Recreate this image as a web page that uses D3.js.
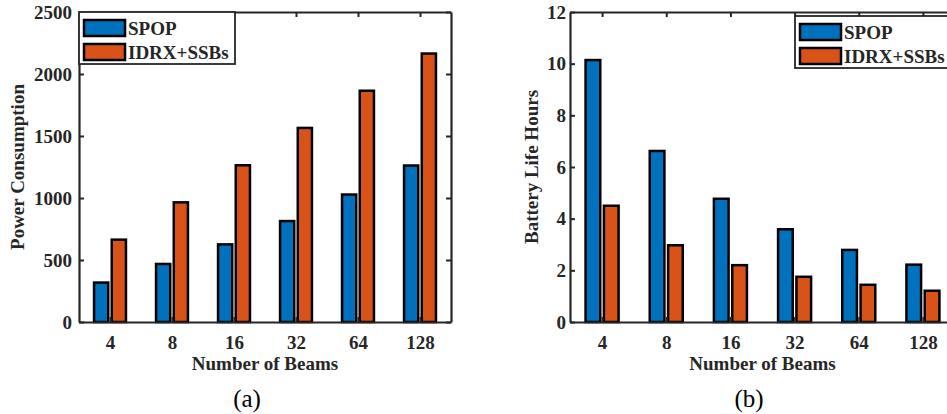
<!DOCTYPE html>
<html>
<head>
<meta charset="utf-8">
<script src="https://cdn.jsdelivr.net/npm/d3@7/dist/d3.min.js"></script>
<style>
  body { margin: 0; background: #fff; }
  svg { display: block; }
  text { font-family: "Liberation Serif", "Times New Roman", serif; }
</style>
</head>
<body>
<svg id="chart" width="947" height="414"></svg>
<script>
// data
var beams = ["4", "8", "16", "32", "64", "128"];
var seriesNames = ["SPOP", "IDRX+SSBs"];
var seriesColors = ["#0072BD", "#D95319"];

var powerSPOP = [318, 468, 626, 814, 1028, 1262];
var powerIDRX = [664, 965, 1264, 1565, 1865, 2165];
var powerTicks = [0, 500, 1000, 1500, 2000, 2500];

var batterySPOP = [10.14, 6.62, 4.77, 3.59, 2.79, 2.22];
var batteryIDRX = [4.50, 2.97, 2.20, 1.75, 1.44, 1.21];
var batteryTicks = [0, 2, 4, 6, 8, 10, 12];

var svg = d3.select("#chart");
var axisColor = "#262626";

function drawPanel(p) {
  var g = svg.append("g");
  var x = d3.scaleLinear().domain([0.5, beams.length + 0.5]).range([p.left, p.right]);
  var y = d3.scaleLinear().domain([0, p.ymax]).range([p.bottom, p.top]);
  var barW = 0.2286, off = 0.1429;
  var series = [p.a, p.b];

  // bars
  series.forEach(function(vals, s) {
    g.selectAll(".bar" + s)
      .data(vals)
      .enter()
      .append("rect")
      .attr("x", function(d, i) { return x(i + 1 + (s === 0 ? -off : off) - barW / 2); })
      .attr("y", function(d) { return y(d); })
      .attr("width", x(barW) - x(0))
      .attr("height", function(d) { return y(0) - y(d); })
      .attr("fill", seriesColors[s])
      .attr("stroke", "#000")
      .attr("stroke-width", 2.5);
  });

  // axes (box with inward ticks)
  var ax = g.append("g").attr("transform", "translate(0," + p.bottom + ")")
    .call(d3.axisBottom(x).tickValues(d3.range(1, beams.length + 1))
      .tickFormat(function(d) { return beams[d - 1]; })
      .tickSizeInner(-5).tickSizeOuter(0).tickPadding(14));
  var axT = g.append("g").attr("transform", "translate(0," + p.top + ")")
    .call(d3.axisTop(x).tickValues(d3.range(1, beams.length + 1))
      .tickFormat("").tickSizeInner(-5).tickSizeOuter(0));
  var ay = g.append("g").attr("transform", "translate(" + p.left + ",0)")
    .call(d3.axisLeft(y).tickValues(p.ticks).tickFormat(d3.format("d"))
      .tickSizeInner(-5).tickSizeOuter(0).tickPadding(p.tickPad));
  var ayR = g.append("g").attr("transform", "translate(" + p.right + ",0)")
    .call(d3.axisRight(y).tickValues(p.ticks).tickFormat("").tickSizeInner(-5).tickSizeOuter(0));

  [ax, axT, ay, ayR].forEach(function(a) {
    a.select(".domain").attr("stroke", axisColor).attr("stroke-width", 2.2);
    a.selectAll(".tick line").attr("stroke", axisColor).attr("stroke-width", 2);
    a.selectAll("text")
      .attr("fill", axisColor)
      .style("font-family", '"Liberation Serif", serif')
      .style("font-size", "19px")
      .style("font-weight", "bold");
  });

  // axis labels
  g.append("text")
    .attr("x", (p.left + p.right) / 2)
    .attr("y", 370)
    .attr("text-anchor", "middle")
    .attr("fill", axisColor)
    .style("font-size", "19px")
    .style("font-weight", "bold")
    .text("Number of Beams");

  g.append("text")
    .attr("transform", "translate(" + p.ylabX + "," + (p.top + p.bottom) / 2 + ") rotate(-90)")
    .attr("text-anchor", "middle")
    .attr("fill", axisColor)
    .style("font-size", "19px")
    .style("font-weight", "bold")
    .text(p.ylabel);

  // caption
  g.append("text")
    .attr("x", p.capX)
    .attr("y", 407)
    .attr("text-anchor", "middle")
    .attr("fill", "#000")
    .style("font-size", "25px")
    .text(p.caption);

  // legend
  var lg = g.append("g").attr("transform", "translate(" + p.legX + "," + p.legY + ")");
  lg.append("rect")
    .attr("x", 0).attr("y", 0)
    .attr("width", 156).attr("height", 52)
    .attr("fill", "#fff")
    .attr("stroke", axisColor)
    .attr("stroke-width", 1.8);
  seriesNames.forEach(function(name, s) {
    lg.append("rect")
      .attr("x", 5).attr("y", 8 + s * 24)
      .attr("width", 41).attr("height", 16)
      .attr("fill", seriesColors[s])
      .attr("stroke", "#000")
      .attr("stroke-width", 2.5);
    lg.append("text")
      .attr("x", 49).attr("y", 23 + s * 24)
      .attr("fill", axisColor)
      .style("font-size", "19px")
      .style("font-weight", "bold")
      .text(name);
  });
}

drawPanel({
  left: 79, right: 451, top: 12, bottom: 322,
  ymax: 2500, ticks: powerTicks, tickPad: 7,
  a: powerSPOP, b: powerIDRX,
  ylabel: "Power Consumption", ylabX: 24,
  caption: "(a)", capX: 247,
  legX: 79, legY: 12
});

drawPanel({
  left: 570, right: 955, top: 12, bottom: 322,
  ymax: 12, ticks: batteryTicks, tickPad: 4,
  a: batterySPOP, b: batteryIDRX,
  ylabel: "Battery Life Hours", ylabX: 538,
  caption: "(b)", capX: 749,
  legX: 795, legY: 16
});
</script>
</body>
</html>
